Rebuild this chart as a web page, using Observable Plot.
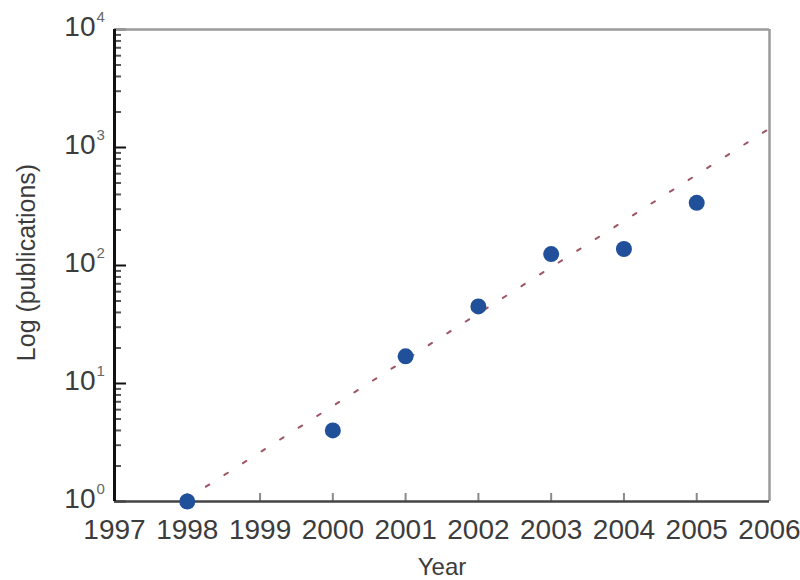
<!DOCTYPE html>
<html>
<head>
<meta charset="utf-8">
<script src="https://cdn.jsdelivr.net/npm/d3@7"></script>
<script src="https://cdn.jsdelivr.net/npm/@observablehq/plot@0.6"></script>
<style>
  html, body { margin: 0; padding: 0; background: #fff; }
  #chart { width: 800px; height: 580px; }
</style>
</head>
<body>
<div id="chart"></div>
<script>
// ---- data ----
const years = [1998, 2000, 2001, 2002, 2003, 2004, 2005];
const publications = [1, 4, 17, 45, 125, 138, 340];
const trendYears = [1998, 2006];
const trendValues = [1.06, 1450];
const xTickLabels = [1997, 1998, 1999, 2000, 2001, 2002, 2003, 2004, 2005, 2006];
const xInnerTicks = [1998, 1999, 2000, 2001, 2002, 2003, 2004, 2005];
const yTicks = [1, 10, 100, 1000, 10000];
const yExponents = ["0", "1", "2", "3", "4"];
const xLabel = "Year";
const yLabel = "Log (publications)";

const points = years.map((y, i) => ({year: y, value: publications[i]}));
const trend = trendYears.map((y, i) => ({year: y, value: trendValues[i]}));
const yMinor = [];
for (let k = 0; k < 4; k++) for (let m = 2; m <= 9; m++) yMinor.push(m * Math.pow(10, k));
const yLabels = yTicks.map((v, i) => ({value: v, exp: yExponents[i]}));

const textColor = "#3c3c3c";
const font = "'Liberation Sans', Arial, sans-serif";

const chart = Plot.plot({
  width: 800,
  height: 580,
  marginTop: 29,
  marginBottom: 79,
  marginLeft: 114,
  marginRight: 31,
  style: {fontFamily: font, background: "#fff", color: textColor},
  x: {domain: [1997, 2006], axis: null},
  y: {type: "log", domain: [1, 10000], axis: null},
  marks: [
    // x axis inner ticks and labels
    Plot.axisX(xInnerTicks, {tickSize: 8, dy: -8, tickFormat: () => "", label: null, stroke: "#8a8a8a", strokeWidth: 2}),
    Plot.axisX(xTickLabels, {tickSize: 0, tickPadding: 18, tickFormat: d => String(d), label: null, fontSize: 28, fill: textColor}),
    // y axis inner ticks
    Plot.axisY(yMinor, {tickSize: 7, dx: 7, tickFormat: () => "", label: null, stroke: "#555", strokeWidth: 2}),
    Plot.axisY(yTicks, {tickSize: 12, dx: 12, tickFormat: () => "", label: null, stroke: "#111", strokeWidth: 2}),
    // frame sides
    Plot.ruleX([2006], {stroke: "#9a9a9a", strokeWidth: 2.5}),
    Plot.ruleY([10000], {stroke: "#9a9a9a", strokeWidth: 2.5}),
    Plot.ruleY([1], {stroke: "#444", strokeWidth: 2.5}),
    Plot.ruleX([1997], {stroke: "#111", strokeWidth: 3}),
    // y tick labels as 10^n
    Plot.text(yLabels, {y: "value", frameAnchor: "left", text: () => "10", textAnchor: "end", dx: -19, dy: -2, fontSize: 28, fill: textColor}),
    Plot.text(yLabels, {y: "value", frameAnchor: "left", text: "exp", textAnchor: "start", dx: -18, dy: -12, fontSize: 15, fill: "#666"}),
    // axis titles
    Plot.text([xLabel], {frameAnchor: "bottom", lineAnchor: "middle", dy: 66, fontSize: 24, fill: textColor}),
    Plot.text([yLabel], {frameAnchor: "left", textAnchor: "middle", lineAnchor: "middle", dx: -88, dy: -3, rotate: -90, fontSize: 25, fill: textColor}),
    // trend line
    Plot.line(trend, {x: "year", y: "value", stroke: "#a05565", strokeWidth: 2, strokeDasharray: "4,18"}),
    // data points
    Plot.dot(points, {x: "year", y: "value", r: 8, fill: "#21509a", stroke: "none"})
  ]
});
document.getElementById("chart").appendChild(chart);
</script>
</body>
</html>
